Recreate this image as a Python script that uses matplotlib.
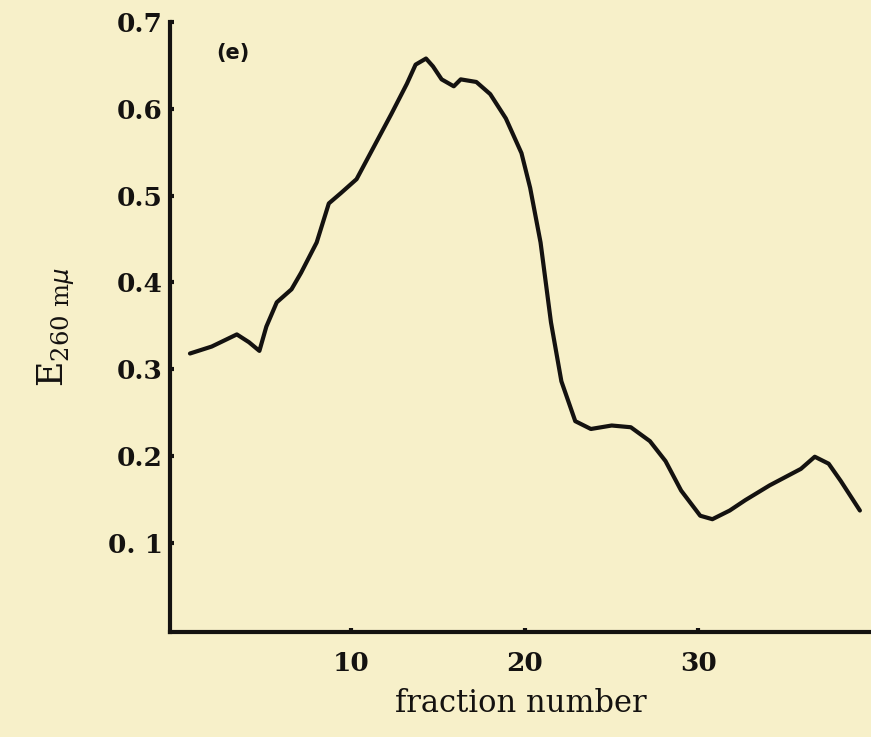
import matplotlib
matplotlib.use("Agg")
import matplotlib.pyplot as plt

# curve
fraction = [0.7, 1.95, 3.4, 4.1, 4.7, 5.1, 5.7, 6.55, 7.1, 8.0, 8.7, 9.4, 10.3,
            11.1, 12.3, 13.2, 13.7, 14.3, 14.7, 15.2, 15.9, 16.3, 17.2, 18.0,
            18.9, 19.8, 20.3, 20.9, 21.5, 22.1, 22.9, 23.8, 25.0, 26.1, 27.2,
            28.1, 29.0, 30.1, 30.8, 31.8, 32.7, 34.1, 35.9, 36.7, 37.5, 38.2,
            39.3]
absorb = [0.318, 0.326, 0.340, 0.331, 0.321, 0.349, 0.377, 0.392, 0.411, 0.446,
          0.491, 0.503, 0.519, 0.549, 0.594, 0.629, 0.651, 0.658, 0.649, 0.634,
          0.626, 0.634, 0.631, 0.617, 0.589, 0.549, 0.509, 0.446, 0.354, 0.286,
          0.240, 0.231, 0.235, 0.233, 0.217, 0.194, 0.160, 0.131, 0.127, 0.137,
          0.149, 0.166, 0.185, 0.199, 0.191, 0.171, 0.137]

xticks = [10, 20, 30]
yticks = [0.1, 0.2, 0.3, 0.4, 0.5, 0.6, 0.7]
ytick_labels = ['0. 1', '0.2', '0.3', '0.4', '0.5', '0.6', '0.7']

bg = '#f7f0c9'
ink = '#141210'

fig = plt.figure(figsize=(8.71, 7.37), dpi=100, facecolor=bg)
ax = fig.add_axes([0.195, 0.1425, 0.805, 0.8275], facecolor=bg)

ax.plot(fraction, absorb, color=ink, lw=3.0, solid_capstyle='round',
        solid_joinstyle='round')

ax.set_xlim(-0.46, 39.94)
ax.set_ylim(-0.003, 0.70)

for s in ['top', 'right']:
    ax.spines[s].set_visible(False)
for s in ['left', 'bottom']:
    ax.spines[s].set_linewidth(3.0)
    ax.spines[s].set_color(ink)

ax.set_xticks(xticks)
ax.set_yticks(yticks)
ax.set_yticklabels(ytick_labels)
ax.tick_params(direction='in', length=3, width=3, color=ink,
               labelsize=19, labelcolor=ink)
ax.tick_params(axis='x', pad=14)
ax.tick_params(axis='y', pad=5)
for lab in ax.get_xticklabels() + ax.get_yticklabels():
    lab.set_family('DejaVu Serif')
    lab.set_weight('bold')

ax.set_xlabel('fraction number', family='DejaVu Serif', fontsize=22,
              color=ink, labelpad=8)
ax.set_ylabel(r'E$_{\mathregular{260\ m}\mu}$', family='DejaVu Serif',
              fontsize=25, color=ink, labelpad=22)

ax.text(0.09, 0.95, '(e)', transform=ax.transAxes, fontsize=15,
        fontweight='bold', color=ink, ha='center', va='center')

fig.savefig('out.png', dpi=100, facecolor=bg)
